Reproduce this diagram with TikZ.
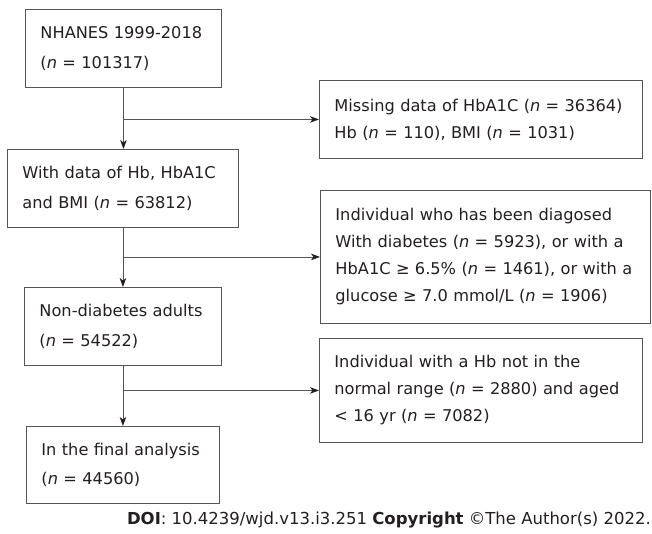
\documentclass[tikz,border=0pt]{standalone}
\usepackage{fontspec}
\setmainfont{DejaVu Sans}
\usetikzlibrary{arrows.meta}
\definecolor{linec}{HTML}{555555}
\definecolor{tipc}{HTML}{231F20}
\definecolor{txtc}{HTML}{231F20}
\tikzset{
  box/.style={draw=linec, line width=0.9pt, rectangle, anchor=north west, inner xsep=15pt, inner ysep=0pt,
    align=left, text=txtc, font=\fontsize{16.2}{29.5}\selectfont},
  sidebox/.style={box, font=\fontsize{16.2}{27}\selectfont},
  arr/.style={draw=linec, line width=0.9pt, -{Stealth[length=9pt,width=6.5pt,inset=2.5pt,color=tipc]}}
}
\newcommand{\nn}{\textit{n}}
\begin{document}
\begin{tikzpicture}[x=1pt,y=-1pt]
\useasboundingbox (0,0) rectangle (652,533);
\node[box, text width=166pt, minimum height=78pt] (n1) at (25,9) {\mbox{NHANES 1999-2018}\\\mbox{(\nn{} = 101317)}};
\node[box, text width=201pt, minimum height=78pt] (n2) at (7,149) {\mbox{With data of Hb, HbA1C}\\\mbox{and BMI (\nn{} = 63812)}};
\node[box, text width=167pt, minimum height=78pt] (n3) at (24,287) {\mbox{Non-diabetes adults}\\\mbox{(\nn{} = 54522)}};
\node[box, text width=163pt, minimum height=77pt] (n4) at (26,426) {\mbox{In the final analysis}\\\mbox{(\nn{} = 44560)}};
\node[sidebox, text width=293pt, minimum height=78pt] (m1) at (319,80) {\mbox{Missing data of HbA1C (\nn{} = 36364)}\\\mbox{Hb (\nn{} = 110), BMI (\nn{} = 1031)}};
\node[sidebox, text width=300pt, minimum height=133pt] (m2) at (320,190) {\mbox{Individual who has been diagosed}\\\mbox{With diabetes (\nn{} = 5923), or with a}\\\mbox{HbA1C ≥ 6.5\% (\nn{} = 1461), or with a}\\\mbox{glucose ≥ 7.0 mmol/L (\nn{} = 1906)}};
\node[sidebox, text width=293pt, minimum height=104pt] (m3) at (319,338) {\mbox{Individual with a Hb not in the}\\\mbox{normal range (\nn{} = 2880) and aged}\\\mbox{< 16 yr (\nn{} = 7082)}};
\draw[arr] (n1.south) -- (n1.south |- n2.north);
\draw[arr] (n1.south |- m1.west) -- (m1.west);
\draw[arr] (n2.south) -- (n2.south |- n3.north);
\draw[arr] (n2.south |- m2.west) -- (m2.west);
\draw[arr] (n3.south) -- (n3.south |- n4.north);
\draw[arr] (n3.south |- m3.west) -- (m3.west);
\node[anchor=east, inner sep=0pt, text=txtc, font=\fontsize{16.5}{18}\selectfont] (doi) at (651,520) {\textbf{DOI}: 10.4239/wjd.v13.i3.251 \textbf{Copyright} ©The Author(s) 2022.};
\end{tikzpicture}
\end{document}
